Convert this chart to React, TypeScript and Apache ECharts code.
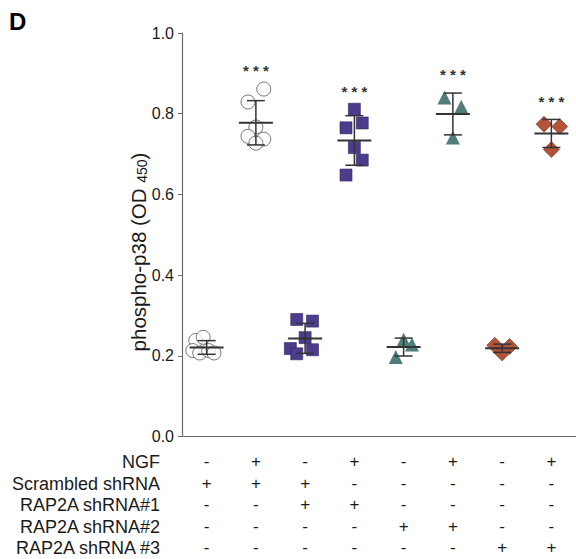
import React, { useEffect, useRef } from "react";
import * as echarts from "echarts";

// ---- data ----
const rowLabels = ["NGF", "Scrambled shRNA", "RAP2A shRNA#1", "RAP2A shRNA#2", "RAP2A shRNA #3"];
const rowNGF = ["-", "+", "-", "+", "-", "+", "-", "+"];
const rowScrambled = ["+", "+", "+", "-", "-", "-", "-", "-"];
const rowSh1 = ["-", "-", "+", "+", "-", "-", "-", "-"];
const rowSh2 = ["-", "-", "-", "-", "+", "+", "-", "-"];
const rowSh3 = ["-", "-", "-", "-", "-", "-", "+", "+"];
const groupKeys = ["g0", "g1", "g2", "g3", "g4", "g5", "g6", "g7"];

const g0 = [0.238, 0.246, 0.213, 0.207, 0.213, 0.207];
const g1 = [0.861, 0.829, 0.767, 0.744, 0.737, 0.727];
const g2 = [0.290, 0.286, 0.245, 0.218, 0.205, 0.215];
const g3 = [0.811, 0.777, 0.765, 0.716, 0.685, 0.648];
const g4 = [0.240, 0.228, 0.197];
const g5 = [0.840, 0.817, 0.741];
const g6 = [0.226, 0.223, 0.207];
const g7 = [0.774, 0.768, 0.711];

// horizontal scatter (jitter) of each point, in category units
const j0 = [-0.22, -0.07, -0.28, -0.14, 0.04, 0.15];
const j1 = [0.16, -0.16, 0, -0.16, 0.16, 0];
const j2 = [-0.17, 0.15, 0, -0.3, -0.17, 0.15];
const j3 = [0, 0.16, -0.17, 0, 0.16, -0.17];
const j4 = [0, 0.17, -0.16];
const j5 = [-0.17, 0.17, 0];
const j6 = [-0.15, 0.15, 0];
const j7 = [-0.15, 0.17, 0];

const significance = ["", "* * *", "", "* * *", "", "* * *", "", "* * *"];
const yTicks = [0, 0.2, 0.4, 0.6, 0.8, 1.0];

const groups = [g0, g1, g2, g3, g4, g5, g6, g7];
const jitters = [j0, j1, j2, j3, j4, j5, j6, j7];

const FONT = "'Liberation Sans', Arial, sans-serif";

function stats(v: number[]) {
  const m = v.reduce((a, b) => a + b, 0) / v.length;
  const sd = Math.sqrt(v.reduce((a, b) => a + (b - m) * (b - m), 0) / (v.length - 1));
  return { m, sd, max: Math.max(...v) };
}

function pts(idx: number) {
  return groups[idx].map((v, k) => [idx + jitters[idx][k], v]);
}

export default function App() {
  const ref = useRef<HTMLDivElement>(null);
  useEffect(() => {
    if (!ref.current) return;
    const chart = echarts.init(ref.current, null, { renderer: "svg" });
    const barData = groups.map((g, i) => {
      const s = stats(g);
      return [i, s.m, s.sd, Math.max(s.max, s.m + s.sd) + 0.045];
    });
    const rowYs = [462, 483.5, 505, 526.5, 548];
    const option: any = {
      animation: false,
      backgroundColor: "#ffffff",
      grid: { left: 182, top: 33, width: 395, height: 403.5, containLabel: false },
      xAxis: [
        {
          type: "category",
          data: groupKeys,
          boundaryGap: true,
          axisLine: { lineStyle: { color: "#6b6b6b", width: 1.2 } },
          axisTick: { alignWithLabel: true, length: 4, lineStyle: { color: "#6b6b6b" } },
          axisLabel: {
            interval: 0,
            margin: 14.5,
            fontSize: 17,
            lineHeight: 21.5,
            color: "#1a1a1a",
            fontFamily: FONT,
            formatter: (_v: string, i: number) =>
              [rowNGF[i], rowScrambled[i], rowSh1[i], rowSh2[i], rowSh3[i]].join("\n"),
          },
          splitLine: { show: false },
        },
        {
          type: "value",
          min: -0.5,
          max: 7.5,
          show: false,
        },
      ],
      yAxis: {
        type: "value",
        min: 0,
        max: 1,
        interval: 0.2,
        axisLine: { show: true, onZero: false, lineStyle: { color: "#6b6b6b", width: 1.2 } },
        axisTick: { show: true, length: 4, lineStyle: { color: "#6b6b6b" } },
        axisLabel: {
          fontSize: 16,
          color: "#1a1a1a",
          fontFamily: FONT,
          margin: 8,
          formatter: (v: number) => yTicks.includes(Math.round(v * 10) / 10) ? v.toFixed(1) : "",
        },
        splitLine: { show: false },
      },
      graphic: [
        {
          type: "text",
          left: 9,
          top: 9,
          style: { text: "D", font: `bold 24px ${FONT}`, fill: "#000" },
        },
        {
          type: "text",
          x: 138,
          y: 252,
          rotation: Math.PI / 2,
          style: {
            text: "phospho-p38 (OD {sub|450})",
            font: `20.5px ${FONT}`,
            fill: "#1a1a1a",
            align: "center",
            verticalAlign: "middle",
            rich: {
              sub: { fontSize: 14, fontFamily: FONT, fill: "#1a1a1a", padding: [8, 0, 0, 0] },
            },
          },
        },
        ...rowLabels.map((t, i) => ({
          type: "text",
          x: 160,
          y: rowYs[i],
          style: {
            text: t,
            font: `18px ${FONT}`,
            fill: "#1a1a1a",
            align: "right",
            verticalAlign: "middle",
          },
        })),
      ],
      series: [
        {
          type: "scatter",
          xAxisIndex: 1,
          symbol: "circle",
          symbolSize: 14,
          itemStyle: { color: "#ffffff", borderColor: "#555555", borderWidth: 1 },
          data: [...pts(0), ...pts(1)],
          z: 2,
        },
        {
          type: "scatter",
          xAxisIndex: 1,
          symbol: "rect",
          symbolSize: 12,
          itemStyle: { color: "#4d3c8c", borderColor: "#2f2460", borderWidth: 0.6, opacity: 1 },
          data: [...pts(2), ...pts(3)],
          z: 2,
        },
        {
          type: "scatter",
          xAxisIndex: 1,
          symbol: "triangle",
          symbolSize: 14,
          itemStyle: { color: "#4e7d7a", opacity: 1 },
          data: [...pts(4), ...pts(5)],
          z: 2,
        },
        {
          type: "scatter",
          xAxisIndex: 1,
          symbol: "diamond",
          symbolSize: 16,
          itemStyle: { color: "#b2533a", borderColor: "#7a3322", borderWidth: 0.6, opacity: 1 },
          data: [...pts(6), ...pts(7)],
          z: 2,
        },
        {
          type: "custom",
          xAxisIndex: 1,
          z: 5,
          data: barData,
          renderItem: (params: any, api: any) => {
            const i = api.value(0);
            const m = api.value(1);
            const sd = api.value(2);
            const starY = api.value(3);
            const c = api.coord([i, m]);
            const hi = api.coord([i, m + sd]);
            const lo = api.coord([i, m - sd]);
            const st = api.coord([i, starY]);
            const ls = { stroke: "#333333", lineWidth: 1.5 };
            const children: any[] = [
              { type: "line", shape: { x1: c[0], y1: hi[1], x2: c[0], y2: lo[1] }, style: ls },
              { type: "line", shape: { x1: c[0] - 9, y1: hi[1], x2: c[0] + 9, y2: hi[1] }, style: ls },
              { type: "line", shape: { x1: c[0] - 9, y1: lo[1], x2: c[0] + 9, y2: lo[1] }, style: ls },
              { type: "line", shape: { x1: c[0] - 17, y1: c[1], x2: c[0] + 17, y2: c[1] }, style: { stroke: "#333333", lineWidth: 2 } },
            ];
            const sig = significance[params.dataIndex];
            if (sig) {
              children.push({
                type: "text",
                x: c[0],
                y: st[1],
                style: {
                  text: sig,
                  font: `bold 15px ${FONT}`,
                  fill: "#333333",
                  align: "center",
                  verticalAlign: "middle",
                },
              });
            }
            return { type: "group", children };
          },
        },
      ],
    };
    chart.setOption(option);
    return () => chart.dispose();
  }, []);
  return (
    <div
      ref={ref}
      style={{ position: "fixed", left: 0, top: 0, width: 576, height: 559, background: "#fff" }}
    />
  );
}
